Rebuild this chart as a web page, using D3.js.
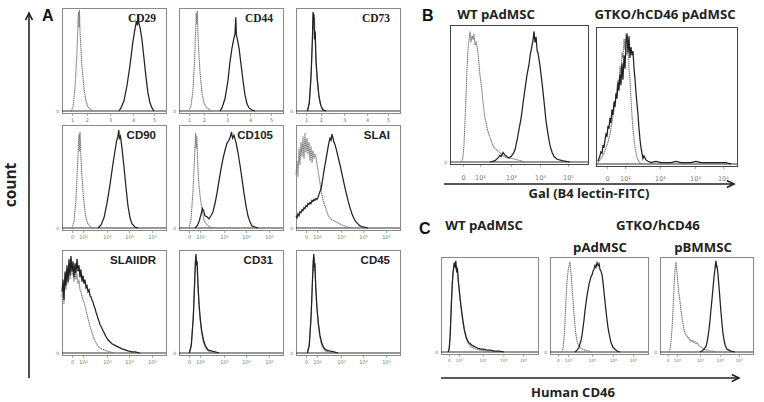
<!DOCTYPE html>
<html><head><meta charset="utf-8">
<script src="https://cdn.jsdelivr.net/npm/d3@7"></script>
<style>body{margin:0;background:#fff}svg{display:block}</style>
</head><body>
<svg id="c" width="764" height="402"></svg>
<script>
// ---------------- DATA (channel 0-1000, % of max count) ----------------
const cd29Iso   = [[86,0],[106,4],[125,22],[144,58],[154,88],[158,97],[163,82],[168,99],[173,78],[182,62],[192,44],[211,22],[230,10],[250,4],[279,1],[298,0]];
const cd29Stain = [[548,0],[567,3],[596,10],[625,25],[654,45],[682,68],[701,80],[716,88],[726,84],[730,94],[740,86],[750,82],[769,70],[788,52],[807,34],[826,18],[846,8],[865,3],[884,0]];
const cd44Iso   = [[96,0],[115,5],[134,20],[150,50],[160,80],[166,96],[171,85],[176,98],[182,75],[192,55],[202,38],[221,18],[240,8],[269,3],[298,1],[317,0]];
const cd44Stain = [[394,0],[413,3],[442,12],[471,30],[490,48],[510,62],[529,72],[538,75],[546,92],[552,74],[562,70],[577,62],[596,46],[615,30],[634,16],[654,7],[673,3],[702,1],[730,0]];
const cd73Iso   = [[106,0],[125,6],[144,30],[157,65],[163,90],[168,96],[173,80],[178,92],[187,60],[197,40],[211,22],[230,8],[250,3],[279,0]];
const cd73Stain = [[110,0],[128,8],[146,38],[158,72],[164,97],[168,88],[172,95],[178,70],[185,78],[192,50],[206,30],[221,14],[240,5],[259,1],[288,0]];
const cd90Iso   = [[96,0],[115,6],[134,28],[149,60],[158,80],[163,92],[168,75],[173,94],[182,70],[192,50],[206,30],[226,12],[245,5],[274,1],[298,0]];
const cd90Stain = [[346,0],[375,3],[404,10],[432,24],[461,42],[490,63],[510,76],[524,85],[538,90],[546,96],[552,88],[562,90],[577,78],[596,60],[615,40],[634,22],[654,10],[673,4],[702,1],[730,0]];
const cd105Iso  = [[96,0],[115,8],[134,35],[148,65],[156,85],[161,93],[166,78],[172,90],[180,62],[190,45],[202,32],[221,18],[240,8],[269,3],[298,1],[336,0]];
const cd105Stain= [[154,0],[173,2],[192,6],[211,13],[226,19],[236,17],[250,12],[269,11],[288,9],[307,12],[327,16],[346,24],[365,34],[384,46],[404,58],[423,68],[442,76],[461,83],[480,86],[495,90],[505,94],[515,88],[529,91],[548,84],[567,74],[586,62],[606,48],[625,34],[644,22],[663,12],[682,6],[702,2],[730,1],[760,0]];
const slaIIso   = [[0,52],[10,66],[19,50],[29,78],[38,62],[48,84],[58,70],[67,90],[77,68],[86,93],[96,74],[106,88],[115,72],[125,84],[134,66],[144,80],[154,64],[163,76],[173,68],[182,72],[192,70],[202,62],[211,58],[221,50],[231,44],[240,37],[250,32],[260,28],[269,24],[279,21],[288,19],[298,16],[308,13],[317,11],[327,10],[346,8],[365,7],[385,6],[404,5],[423,4],[442,3],[471,2],[500,1],[529,0]];
const slaIStain = [[0,12],[10,10],[19,14],[29,12],[38,16],[48,15],[58,18],[67,17],[77,20],[86,19],[96,22],[106,21],[115,24],[125,23],[134,25],[144,24],[154,27],[163,26],[173,28],[182,27],[192,29],[202,28],[211,30],[221,33],[231,36],[240,38],[250,44],[260,50],[269,56],[279,62],[288,67],[298,73],[308,79],[317,84],[327,88],[337,86],[346,92],[356,88],[365,84],[375,82],[385,78],[404,70],[423,62],[442,53],[461,44],[481,35],[500,27],[519,20],[538,14],[558,9],[577,6],[596,4],[615,2],[644,1],[692,0]];
const slaIIDRIso   = [[0,55],[10,66],[19,48],[29,74],[38,62],[48,82],[58,68],[67,90],[77,72],[86,93],[96,76],[106,84],[115,70],[125,82],[134,72],[144,78],[154,68],[163,72],[173,62],[182,60],[192,56],[202,52],[211,50],[221,46],[231,42],[240,38],[250,34],[260,30],[269,26],[279,23],[288,20],[298,17],[308,14],[317,12],[327,10],[337,8],[346,7],[365,5],[385,4],[404,3],[433,2],[462,1],[500,0]];
const slaIIDRStain = [[0,60],[10,72],[19,52],[29,80],[38,66],[48,86],[58,70],[67,92],[77,76],[86,95],[96,80],[106,90],[115,74],[125,88],[134,78],[144,92],[154,80],[163,86],[173,74],[182,82],[192,70],[202,76],[211,68],[221,72],[231,64],[240,66],[250,60],[260,62],[269,56],[279,55],[288,52],[298,50],[308,46],[317,44],[327,40],[337,37],[346,34],[356,31],[365,28],[375,26],[385,24],[394,22],[404,20],[423,16],[442,13],[461,11],[481,9],[500,8],[519,7],[538,6],[558,5],[577,4],[606,3],[635,2],[673,1],[702,1],[750,0]];
const cd31Iso   = [[96,0],[115,6],[134,30],[148,62],[156,85],[161,95],[166,88],[171,92],[180,70],[190,50],[202,34],[216,20],[231,12],[250,6],[269,3],[298,1],[336,0]];
const cd31Stain = [[100,0],[119,8],[138,36],[150,68],[158,90],[163,97],[168,86],[174,90],[183,66],[194,46],[206,32],[221,20],[240,11],[259,6],[279,3],[308,2],[346,1],[385,0]];
const cd45Iso   = [[106,0],[125,6],[144,32],[156,64],[163,85],[168,92],[173,80],[178,94],[187,70],[197,50],[211,32],[226,18],[240,10],[259,5],[279,2],[308,1],[346,0]];
const cd45Stain = [[110,0],[128,8],[146,38],[158,70],[166,90],[171,97],[176,84],[182,88],[190,64],[202,44],[216,28],[231,17],[250,9],[269,5],[288,3],[317,2],[365,1],[404,0]];

const galWtIso   = [[80,0],[87,1],[94,4],[101,12],[109,30],[116,48],[123,68],[130,82],[138,90],[145,96],[152,88],[160,93],[167,90],[174,94],[181,86],[189,88],[196,85],[203,80],[210,72],[217,64],[225,58],[232,52],[239,44],[246,38],[254,32],[261,29],[268,25],[283,20],[297,16],[312,12],[326,10],[348,8],[370,6],[392,4],[413,3],[435,3],[471,2],[508,1],[544,0]];
const galWtStain = [[290,0],[326,1],[348,3],[362,5],[370,4],[384,7],[399,5],[413,4],[428,3],[442,4],[457,6],[471,9],[486,16],[500,24],[515,32],[529,43],[544,54],[558,64],[573,72],[580,78],[595,86],[602,90],[609,96],[616,88],[624,92],[631,82],[638,80],[653,70],[667,58],[682,44],[696,30],[711,20],[725,12],[740,7],[754,4],[776,2],[812,1],[870,0]];
const galKoIso   = [[14,1],[28,3],[43,5],[57,8],[71,12],[85,16],[99,22],[113,30],[128,40],[142,50],[156,62],[163,58],[170,72],[177,66],[184,82],[191,78],[199,92],[206,84],[213,96],[220,80],[227,88],[234,70],[241,62],[248,48],[255,36],[262,26],[270,18],[277,12],[284,8],[291,5],[298,3],[312,1],[326,0]];
const galKoStain = [[14,2],[21,4],[28,6],[35,9],[43,8],[50,14],[57,12],[64,18],[71,22],[78,20],[85,28],[92,26],[99,34],[106,30],[113,40],[120,36],[128,46],[135,42],[142,52],[149,48],[156,60],[163,54],[170,66],[177,58],[184,74],[191,62],[199,80],[206,70],[213,90],[220,96],[227,82],[234,94],[241,78],[248,86],[255,80],[262,83],[270,70],[277,62],[284,52],[291,44],[298,36],[305,26],[312,18],[319,12],[326,8],[333,4],[340,6],[355,3],[369,2],[390,1],[425,2],[461,1],[496,1],[532,1],[567,2],[603,1],[638,1],[674,1],[709,2],[745,1],[780,1],[816,1],[851,1],[887,1],[922,1],[958,0]];

const hcd46WtIso    = [[71,0],[82,3],[92,15],[102,40],[112,65],[122,82],[133,90],[143,96],[153,88],[163,92],[173,80],[184,70],[194,60],[204,50],[214,40],[224,32],[235,26],[245,20],[255,16],[265,13],[276,10],[296,7],[316,5],[337,4],[367,3],[408,2],[459,1],[510,0]];
const hcd46WtStain  = [[75,0],[86,4],[96,20],[106,48],[116,72],[126,86],[136,95],[146,90],[153,97],[160,86],[170,88],[180,74],[190,64],[200,54],[210,46],[220,38],[230,31],[240,24],[250,20],[260,16],[270,13],[285,10],[300,9],[320,7],[340,6],[360,5],[380,4],[410,3],[440,3],[470,2],[510,2],[550,1],[600,1],[650,0]];
const hcd46AdIso    = [[122,0],[133,4],[143,14],[153,32],[163,55],[173,74],[184,86],[194,92],[204,96],[214,84],[224,70],[235,55],[245,40],[255,28],[265,18],[276,12],[286,8],[296,6],[316,4],[337,3],[357,2],[388,1],[420,0]];
const hcd46AdStain  = [[255,0],[276,2],[296,5],[316,12],[327,18],[337,26],[347,34],[357,44],[367,52],[378,60],[388,66],[398,72],[408,76],[418,80],[429,82],[439,86],[449,88],[459,92],[469,90],[480,95],[490,92],[500,94],[510,88],[520,86],[531,82],[541,74],[551,64],[561,54],[571,44],[582,34],[592,26],[602,20],[612,15],[622,10],[643,5],[663,3],[684,1],[714,0]];
const hcd46BmIso    = [[97,0],[108,3],[118,10],[129,24],[140,45],[151,70],[161,88],[172,96],[183,84],[194,72],[204,62],[215,54],[226,44],[237,36],[247,30],[258,24],[269,20],[280,18],[290,17],[301,15],[312,15],[323,12],[333,13],[344,11],[355,12],[366,10],[376,11],[387,9],[398,10],[409,8],[419,7],[430,6],[441,5],[452,5],[462,4],[473,3],[495,2],[516,2],[538,1],[570,1],[602,0]];
const hcd46BmStain  = [[430,0],[452,1],[473,3],[495,6],[505,10],[516,16],[527,24],[538,34],[548,45],[559,56],[570,68],[581,80],[591,88],[597,94],[602,97],[608,90],[613,92],[624,82],[634,70],[645,56],[656,42],[667,30],[677,20],[688,13],[699,8],[710,5],[720,3],[742,2],[763,1],[806,0]];

const ticksA1  = [96, 240, 462, 683, 885];
const ticksA23 = [96, 202, 433, 644, 865];
const ticksBwt = [94, 217, 442, 652, 855];
const ticksBko = [78, 206, 454, 702, 900];
const ticksC   = [82, 184, 429, 643, 847];
const tickLabelsExp = ["1", "2", "3", "4", "5"];
const tickLabelsLog = ["0", "10\u00B2", "10\u00B3", "10\u2074", "10\u2075"];
const markersA = ["CD29", "CD44", "CD73", "CD90", "CD105", "SLAI", "SLAIIDR", "CD31", "CD45"];

// ---------------- LAYOUT ----------------
const svg = d3.select("#c");
const serif = "'Liberation Serif', 'Times New Roman', serif";
const sans = "'Liberation Sans', Arial, sans-serif";
const hum = "'Open Sans', 'Noto Sans', sans-serif";
const tickFont = "'DejaVu Sans', sans-serif";

const aCols = [62, 179, 296], aRows = [8, 125, 250], aW = 104, aH = 105;
const aCurves = [[cd29Iso, cd29Stain],[cd44Iso, cd44Stain],[cd73Iso, cd73Stain],
                 [cd90Iso, cd90Stain],[cd105Iso, cd105Stain],[slaIIso, slaIStain],
                 [slaIIDRIso, slaIIDRStain],[cd31Iso, cd31Stain],[cd45Iso, cd45Stain]];

const panels = [];
markersA.forEach((m, i) => {
  const r = Math.floor(i / 3), c = i % 3;
  panels.push({x0: aCols[c], x1: aCols[c] + aW, y0: aRows[r], y1: aRows[r] + aH,
    iso: aCurves[i][0], stain: aCurves[i][1],
    ticks: r === 0 ? ticksA1 : ticksA23, labels: r === 0 ? tickLabelsExp : tickLabelsLog,
    tickFs: 5, tickDy: 10, name: m, nameFont: r === 0 ? serif : sans, boxColor: "#8a8a8a"});
});
panels.push({x0: 450, x1: 588, y0: 25, y1: 164, iso: galWtIso, stain: galWtStain,
  ticks: ticksBwt, labels: tickLabelsLog, tickFs: 6.5, tickDy: 16, boxColor: "#444"});
panels.push({x0: 596, x1: 737, y0: 27, y1: 166, iso: galKoIso, stain: galKoStain,
  ticks: ticksBko, labels: tickLabelsLog, tickFs: 6.5, tickDy: 15, boxColor: "#444", noZero: true});
panels.push({x0: 441, x1: 538, y0: 257, y1: 354, iso: hcd46WtIso, stain: hcd46WtStain,
  ticks: ticksC, labels: tickLabelsLog, tickFs: 4.5, tickDy: 10, boxColor: "#8a8a8a"});
panels.push({x0: 550, x1: 648, y0: 257, y1: 354, iso: hcd46AdIso, stain: hcd46AdStain,
  ticks: ticksC, labels: tickLabelsLog, tickFs: 4.5, tickDy: 10, boxColor: "#8a8a8a"});
panels.push({x0: 660, x1: 753, y0: 257, y1: 354, iso: hcd46BmIso, stain: hcd46BmStain,
  ticks: ticksC, labels: tickLabelsLog, tickFs: 4.5, tickDy: 10, boxColor: "#8a8a8a"});

panels.forEach(p => {
  const g = svg.append("g");
  const x = d3.scaleLinear().domain([0, 1000]).range([p.x0, p.x1]);
  const y = d3.scaleLinear().domain([0, 100]).range([p.y1 - 2, p.y0 + 1]);
  const line = d3.line().x(d => x(d[0])).y(d => y(d[1]));
  g.append("rect").attr("x", p.x0 + 0.5).attr("y", p.y0 + 0.5)
    .attr("width", p.x1 - p.x0).attr("height", p.y1 - p.y0)
    .attr("fill", "none").attr("stroke", p.boxColor).attr("stroke-width", 1);
  g.append("line").attr("x1", x(0)).attr("x2", x(1000)).attr("y1", y(0)).attr("y2", y(0))
    .attr("stroke", "#333").attr("stroke-width", 1.2);
  g.append("path").attr("d", line(p.iso)).attr("fill", "none")
    .attr("stroke", "#7c7c7c").attr("stroke-width", 1.1).attr("stroke-dasharray", "1.5,0.5");
  g.append("path").attr("d", line(p.stain)).attr("fill", "none")
    .attr("stroke", "#222").attr("stroke-width", 1.25);
  // ticks
  const axis = d3.axisBottom(x).tickValues(p.ticks).tickSize(2)
    .tickFormat((d, i) => p.labels[i]);
  const ag = g.append("g").attr("transform", `translate(0,${p.y1 + 1})`).call(axis);
  ag.attr("font-family", tickFont);
  ag.select(".domain").remove();
  ag.selectAll(".tick line").attr("stroke", "#aaa");
  ag.selectAll(".tick text").attr("font-size", p.tickFs)
    .attr("fill", "#777").attr("y", p.tickDy - 6);
  if (!p.noZero) {
    g.append("text").attr("x", p.x0 - 3).attr("y", y(0) + 1.5).attr("text-anchor", "end")
      .attr("font-family", tickFont).attr("font-size", 4.5).attr("fill", "#777").text("0");
  }
  if (p.name) {
    g.append("text").attr("x", p.x1 - 10).attr("y", p.y0 + 14).attr("text-anchor", "end")
      .attr("font-family", p.nameFont).attr("font-weight", "bold").attr("font-size", 11.5)
      .attr("fill", "#222").text(p.name);
  }
});

// panel letters
[["A", 42, 21], ["B", 422, 21], ["C", 419, 234]].forEach(([t, px, py]) => {
  svg.append("text").attr("x", px).attr("y", py).attr("font-family", sans)
    .attr("font-weight", "bold").attr("font-size", 16).attr("fill", "#111").text(t);
});

// headings
const heads = [
  ["WT pAdMSC", 496, 19], ["GTKO/hCD46 pAdMSC", 665, 19],
  ["WT pAdMSC", 484, 230], ["GTKO/hCD46", 658, 230],
  ["pAdMSC", 600, 252], ["pBMMSC", 703, 252]
];
heads.forEach(([t, px, py]) => {
  svg.append("text").attr("x", px).attr("y", py).attr("text-anchor", "middle")
    .attr("font-family", hum).attr("font-weight", 700).attr("font-size", 13.2)
    .attr("fill", "#222").text(t);
});

// arrows
function arrow(x1, y1, x2, y2) {
  const g = svg.append("g").attr("stroke", "#222").attr("stroke-width", 1.6).attr("fill", "none");
  g.append("line").attr("x1", x1).attr("y1", y1).attr("x2", x2).attr("y2", y2);
  const ang = Math.atan2(y2 - y1, x2 - x1), L = 8, a = 0.45;
  g.append("path").attr("d",
    `M${x2 - L * Math.cos(ang - a)},${y2 - L * Math.sin(ang - a)}L${x2},${y2}L${x2 - L * Math.cos(ang + a)},${y2 - L * Math.sin(ang + a)}`);
}
arrow(29, 378, 29, 13);
arrow(444, 184, 734, 184);
arrow(441, 378, 739, 378);

svg.append("text").attr("transform", "translate(16,185) rotate(-90)").attr("text-anchor", "middle")
  .attr("font-family", hum).attr("font-weight", 700).attr("font-size", 15.5).attr("fill", "#222").text("count");
svg.append("text").attr("x", 589).attr("y", 198).attr("text-anchor", "middle")
  .attr("font-family", hum).attr("font-weight", 700).attr("font-size", 13).attr("fill", "#222").text("Gal (B4 lectin-FITC)");
svg.append("text").attr("x", 573).attr("y", 397).attr("text-anchor", "middle")
  .attr("font-family", hum).attr("font-weight", 700).attr("font-size", 13).attr("fill", "#222").text("Human CD46");
</script>
</body></html>
